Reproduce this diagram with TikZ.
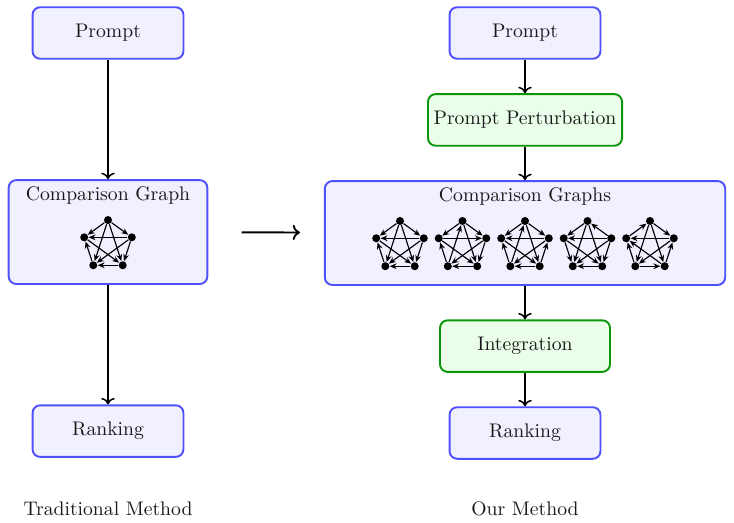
\documentclass[tikz,border=0pt]{standalone}
\usepackage{tikz}
\usetikzlibrary{arrows.meta,positioning,calc}
\definecolor{boxblue}{RGB}{80,80,250}
\definecolor{boxbluefill}{RGB}{240,240,255}
\definecolor{boxgreen}{RGB}{10,150,10}
\definecolor{boxgreenfill}{RGB}{234,254,234}
\tikzset{
  labeltext/.style={
    text=black!90,
    font=\fontsize{10.3pt}{12.4pt}\selectfont
  },
  stepbox/.style={
    draw,
    labeltext,
    rounded corners=4pt,
    line width=1pt,
    align=center,
    inner sep=2pt,
    minimum height=27pt
  },
  bluebox/.style={
    stepbox,
    draw=boxblue,
    fill=boxbluefill
  },
  greenbox/.style={
    stepbox,
    draw=boxgreen,
    fill=boxgreenfill
  },
  flow/.style={->,line width=0.8pt},
  bigflow/.style={->,line width=1pt},
  vdot/.style={circle,fill=black,inner sep=0pt,minimum size=4.2pt},
  gedge/.style={-{Stealth[length=3.6pt,width=3pt]},line width=0.6pt}
}
% one tournament graph: name, centre, edge list
\newcommand{\tgraph}[3]{%
  \foreach \i in {1,...,5}
    \node[vdot] (#1v\i) at ($(#2)+({90+72*(\i-1)}:25)$) {};
  \foreach \a/\b in {#3}
    \draw[gedge] (#1v\a) -- (#1v\b);
}

\begin{document}
\begin{tikzpicture}[x=0.5235pt,y=0.5235pt]
\useasboundingbox (0,0) rectangle (734,522);
% traditional method
\node[bluebox,minimum width=79pt] (lprompt) at (108,489) {Prompt};
\node[bluebox,below=62.5pt of lprompt,minimum width=104pt,minimum height=54.4pt] (lcg) {};
\node[labeltext] (lcgtitle) at ($(lcg.north)+(0,-16.5)$) {Comparison Graph};
\node[bluebox,below=62.5pt of lcg,minimum width=79pt] (lrank) {Ranking};
\node[labeltext] (tradlbl) at (108,13) {Traditional Method};
\draw[flow] (lprompt)--(lcg);
\draw[flow] (lcg)--(lrank);
\tgraph{la}{$(lcg.center)+(0,-13)$}{1/2,1/5,5/2,3/2,1/3,5/3,4/3,2/4,1/4,5/4}
% our method
\node[bluebox,minimum width=79pt] (rprompt) at (525,489) {Prompt};
\node[greenbox,below=17.5pt of rprompt,minimum width=101.6pt] (pert) {Prompt Perturbation};
\node[bluebox,below=17.5pt of pert,minimum width=209.6pt,minimum height=54.4pt] (rcg) {};
\node[labeltext] (rcgtitle) at ($(rcg.north)+(0,-16.5)$) {Comparison Graphs};
\node[greenbox,below=17.5pt of rcg,minimum width=89pt] (integ) {Integration};
\node[bluebox,below=17.5pt of integ,minimum width=79pt] (rrank) {Ranking};
\node[labeltext] (ourlbl) at (525,13) {Our Method};
\draw[flow] (rprompt)--(pert);
\draw[flow] (pert)--(rcg);
\draw[flow] (rcg)--(integ);
\draw[flow] (integ)--(rrank);
\tgraph{ra}{$(rcg.center)+(-125,-13)$}{1/2,1/5,5/2,3/2,1/3,5/3,4/3,2/4,1/4,5/4}
\tgraph{rb}{$(rcg.center)+(-62.5,-13)$}{1/2,3/1,2/5,1/5,3/2,4/3,5/3,1/4,2/4,5/4}
\tgraph{rc}{$(rcg.center)+(0,-13)$}{1/2,3/1,1/5,5/2,3/2,5/3,2/4,4/3,1/4,4/5}
\tgraph{rd}{$(rcg.center)+(62.5,-13)$}{1/2,5/1,5/2,2/3,1/3,1/4,5/3,4/3,2/4,5/4}
\tgraph{re}{$(rcg.center)+(125,-13)$}{2/1,1/5,5/2,4/2,3/2,1/3,3/4,1/4,4/5,5/3}
% from old to new
\draw[bigflow,shorten <=17.5pt,shorten >=12.5pt] (lcg)--(rcg);
\end{tikzpicture}
\end{document}
